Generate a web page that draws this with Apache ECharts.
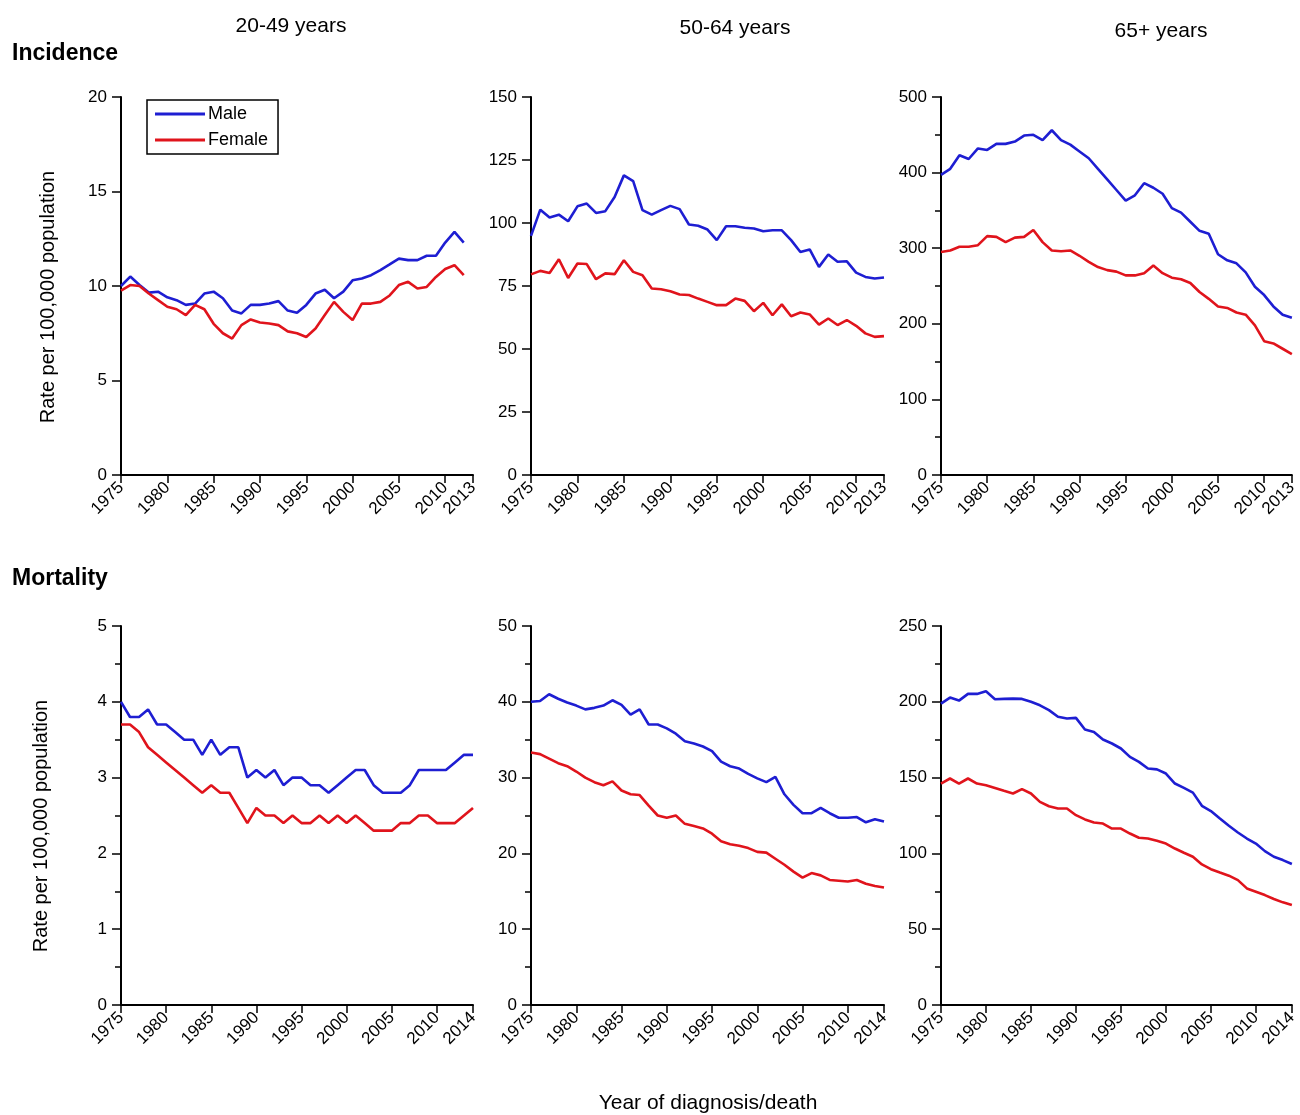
<!DOCTYPE html>
<html>
<head>
<meta charset="utf-8">
<script src="https://cdn.jsdelivr.net/npm/echarts@6/dist/echarts.min.js"></script>
<style>html,body{margin:0;padding:0;background:#fff}#c{width:1300px;height:1115px}</style>
</head>
<body>
<div id="c"></div>
<script>
// ---------- DATA ----------
const yearsInc = [1975,1976,1977,1978,1979,1980,1981,1982,1983,1984,1985,1986,1987,1988,1989,1990,1991,1992,1993,1994,1995,1996,1997,1998,1999,2000,2001,2002,2003,2004,2005,2006,2007,2008,2009,2010,2011,2012,2013];
const yearsMort = [1975,1976,1977,1978,1979,1980,1981,1982,1983,1984,1985,1986,1987,1988,1989,1990,1991,1992,1993,1994,1995,1996,1997,1998,1999,2000,2001,2002,2003,2004,2005,2006,2007,2008,2009,2010,2011,2012,2013,2014];

// Incidence 20-49 (no value drawn for 2013)
const inc2049Male   = [10.0,10.5,10.05,9.65,9.7,9.4,9.25,9.0,9.07,9.6,9.7,9.35,8.7,8.55,9.0,9.0,9.07,9.2,8.7,8.58,9.0,9.6,9.8,9.35,9.7,10.3,10.4,10.57,10.84,11.14,11.45,11.37,11.37,11.6,11.6,12.3,12.86,12.3,null];
const inc2049Female = [9.75,10.05,10.0,9.6,9.25,8.9,8.77,8.46,9.0,8.77,8.0,7.5,7.22,7.93,8.23,8.07,8.02,7.93,7.6,7.5,7.3,7.75,8.46,9.16,8.63,8.2,9.07,9.07,9.16,9.5,10.05,10.22,9.87,9.95,10.48,10.9,11.1,10.57,null];
// Incidence 50-64
const inc5064Male   = [94.9,105.3,102.2,103.3,100.7,106.6,107.7,104.0,104.7,110.3,118.9,116.6,105.1,103.3,105.1,106.8,105.5,99.4,98.9,97.4,93.2,98.7,98.7,98.1,97.8,96.7,97.1,97.1,93.2,88.5,89.5,82.6,87.5,84.6,84.8,80.3,78.6,78.0,78.4];
const inc5064Female = [79.6,81.0,80.2,85.6,78.2,83.9,83.7,77.7,80.0,79.7,85.2,80.6,79.3,74.0,73.7,72.9,71.6,71.4,70.0,68.7,67.4,67.4,70.0,69.1,65.0,68.3,63.4,67.7,63.0,64.5,63.7,59.7,62.1,59.5,61.5,59.2,56.2,54.8,55.1];
// Incidence 65+
const inc65Male   = [397,405,423,418,432,430,438,438,441,449,450,443,456,443,437,428,419,405,391,377,363,370,386,380,372,353,347,335,323,319,292,284,280,268,249,238,223,212,208];
const inc65Female = [295,297,302,302,304,316,315,308,314,315,324,308,297,296,297,290,282,275,271,269,264,264,267,277,267,261,259,254,242,233,223,221,215,212,198,177,174,167,160];
// Mortality 20-49
const mort2049Male   = [4.0,3.8,3.8,3.9,3.7,3.7,3.6,3.5,3.5,3.3,3.5,3.3,3.4,3.4,3.0,3.1,3.0,3.1,2.9,3.0,3.0,2.9,2.9,2.8,2.9,3.0,3.1,3.1,2.9,2.8,2.8,2.8,2.9,3.1,3.1,3.1,3.1,3.2,3.3,3.3];
const mort2049Female = [3.7,3.7,3.6,3.4,3.3,3.2,3.1,3.0,2.9,2.8,2.9,2.8,2.8,2.6,2.4,2.6,2.5,2.5,2.4,2.5,2.4,2.4,2.5,2.4,2.5,2.4,2.5,2.4,2.3,2.3,2.3,2.4,2.4,2.5,2.5,2.4,2.4,2.4,2.5,2.6];
// Mortality 50-64
const mort5064Male   = [40.0,40.1,41.0,40.4,39.9,39.5,39.0,39.2,39.5,40.2,39.6,38.3,39.0,37.0,37.0,36.5,35.8,34.8,34.5,34.1,33.5,32.1,31.5,31.2,30.5,29.9,29.4,30.1,27.8,26.4,25.3,25.3,26.0,25.3,24.7,24.7,24.8,24.1,24.5,24.2];
const mort5064Female = [33.3,33.1,32.5,31.9,31.5,30.8,30.0,29.4,29.0,29.5,28.3,27.8,27.7,26.3,25.0,24.7,25.0,23.9,23.6,23.3,22.6,21.6,21.2,21.0,20.7,20.2,20.1,19.3,18.5,17.6,16.8,17.4,17.1,16.5,16.4,16.3,16.5,16.0,15.7,15.5];
// Mortality 65+
const mort65Male   = [198.8,202.8,200.8,205.2,205.2,206.9,201.7,201.9,202.1,201.9,200.0,197.7,194.5,190.1,189.0,189.4,181.7,180.1,175.1,172.5,169.2,163.7,160.4,156.0,155.4,152.7,146.1,143.2,140.1,131.4,127.9,123.0,118.2,113.8,109.8,106.5,101.5,97.8,95.6,93.0];
const mort65Female = [146.1,149.4,146.1,149.4,146.1,145.0,143.2,141.3,139.5,142.4,139.5,134.0,131.1,129.6,129.6,125.2,122.4,120.4,119.7,116.4,116.4,113.1,110.3,109.8,108.3,106.5,103.2,100.4,97.8,92.7,89.6,87.4,85.3,82.4,76.9,74.7,72.5,69.9,67.7,65.9];

const ageGroups = ['20-49 years','50-64 years','65+ years'];
const rowTitles = ['Incidence','Mortality'];
const yAxisTitle = 'Rate per 100,000 population';
const xAxisTitle = 'Year of diagnosis/death';
const seriesNames = ['Male','Female'];

// ---------- LAYOUT / STYLE ----------
const FONT = 'Liberation Sans, Arial, sans-serif';
const BLUE = '#1e1ed2', RED = '#e0141c';
const lefts = [121, 531, 941], widths = [352, 353, 352];
const tops = [97, 626], heights = [378, 379];

const panels = [
  {row:0,col:0,years:yearsInc, male:inc2049Male, female:inc2049Female, max:20, interval:5, minor:false, xmax:2013},
  {row:0,col:1,years:yearsInc, male:inc5064Male, female:inc5064Female, max:150, interval:25, minor:false, xmax:2013},
  {row:0,col:2,years:yearsInc, male:inc65Male, female:inc65Female, max:500, interval:100, minor:true, xmax:2013},
  {row:1,col:0,years:yearsMort, male:mort2049Male, female:mort2049Female, max:5, interval:1, minor:true, xmax:2014},
  {row:1,col:1,years:yearsMort, male:mort5064Male, female:mort5064Female, max:50, interval:10, minor:true, xmax:2014},
  {row:1,col:2,years:yearsMort, male:mort65Male, female:mort65Female, max:250, interval:50, minor:true, xmax:2014}
];

const grid = [], xAxis = [], yAxis = [], series = [];
panels.forEach((p, i) => {
  grid.push({left: lefts[p.col], top: tops[p.row], width: widths[p.col], height: heights[p.row], containLabel:false});
  xAxis.push({
    type:'value', gridIndex:i, min:1975, max:p.xmax, interval:5,
    splitLine:{show:false},
    axisLine:{show:true, onZero:false, lineStyle:{color:'#000', width:2}},
    axisTick:{show:true, length:8, lineStyle:{color:'#000', width:1.5}},
    axisLabel:{show:true, rotate:45, fontSize:17, color:'#000', fontFamily:FONT, margin:10,
               showMaxLabel:true, showMinLabel:true, formatter: v => String(v)}
  });
  yAxis.push({
    type:'value', gridIndex:i, min:0, max:p.max, interval:p.interval,
    splitLine:{show:false},
    axisLine:{show:true, onZero:false, lineStyle:{color:'#000', width:2}},
    axisTick:{show:true, length:9, lineStyle:{color:'#000', width:1.5}},
    minorTick:{show:p.minor, splitNumber:2, length:6, lineStyle:{color:'#000', width:1.5}},
    minorSplitLine:{show:false},
    axisLabel:{fontSize:17, color:'#000', fontFamily:FONT, margin:14}
  });
  const mk = (name, vals, color) => ({
    type:'line', name: name, xAxisIndex:i, yAxisIndex:i,
    data: p.years.map((y, k) => [y, vals[k]]),
    symbol:'none', connectNulls:false, animation:false,
    lineStyle:{color:color, width:2.6}, itemStyle:{color:color}
  });
  series.push(mk(seriesNames[0], p.male, BLUE));
  series.push(mk(seriesNames[1], p.female, RED));
});

const titleTexts = [];
const colCenters = [291, 735, 1161];
const colTops = [16, 18, 21];
ageGroups.forEach((t, c) => titleTexts.push({
  text:t, left:colCenters[c], top:colTops[c], textAlign:'center', padding:0,
  textStyle:{fontSize:21, fontWeight:'normal', color:'#000', fontFamily:FONT}
}));
titleTexts.push({text:rowTitles[0], left:12, top:42, padding:0, textStyle:{fontSize:23, fontWeight:'bold', color:'#000', fontFamily:FONT}});
titleTexts.push({text:rowTitles[1], left:12, top:567, padding:0, textStyle:{fontSize:23, fontWeight:'bold', color:'#000', fontFamily:FONT}});
titleTexts.push({text:xAxisTitle, left:708, top:1093, textAlign:'center', padding:0, textStyle:{fontSize:21, fontWeight:'normal', color:'#000', fontFamily:FONT}});

const option = {
  backgroundColor:'#fff',
  animation:false,
  title: titleTexts,
  grid: grid, xAxis: xAxis, yAxis: yAxis, series: series,
  legend: {
    data: seriesNames, orient:'vertical', left:147, top:100,
    icon:'rect', itemWidth:50, itemHeight:3, itemGap:8,
    borderColor:'#000', borderWidth:1.5, borderRadius:0, padding:[5,10,5,8],
    textStyle:{fontSize:18, color:'#000', fontFamily:FONT, padding:[0,0,0,-2]},
    selectedMode:false
  },
  graphic: [
    {type:'text', x:48, y:297, rotation:Math.PI/2, style:{text:yAxisTitle, fontSize:20, fontFamily:FONT, fill:'#000', align:'center', verticalAlign:'middle'}},
    {type:'text', x:41, y:826, rotation:Math.PI/2, style:{text:yAxisTitle, fontSize:20, fontFamily:FONT, fill:'#000', align:'center', verticalAlign:'middle'}}
  ]
};
const chart = echarts.init(document.getElementById('c'), null, {renderer:'canvas'});
chart.setOption(option);
</script>
</body>
</html>
